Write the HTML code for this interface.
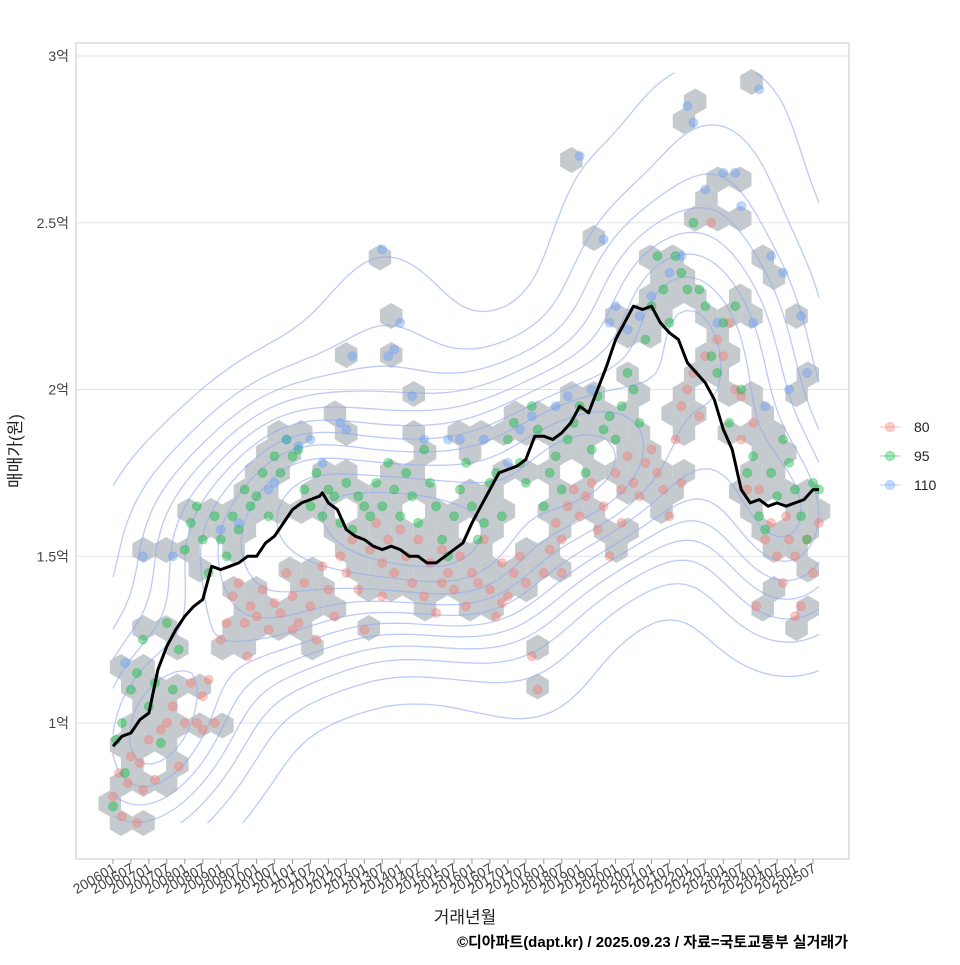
<!DOCTYPE html>
<html><head><meta charset="utf-8"><style>
body{margin:0;background:#fff;}
svg text{font-family:"Liberation Sans","Noto Sans CJK KR",sans-serif;}
</style></head><body>
<svg id="c" width="960" height="960" xmlns="http://www.w3.org/2000/svg">
<rect x="0" y="0" width="960" height="960" fill="#fff"/>
<g id="grid"></g>
<clipPath id="clip"><rect x="76" y="43" width="773" height="816"/></clipPath>
<g id="hexes" clip-path="url(#clip)"></g>
<g id="contours" clip-path="url(#clip)"></g>
<g id="pts"></g>
<g id="line"></g>
<rect x="76" y="43" width="773" height="816" fill="none" stroke="#c8c8c8" stroke-width="1"/>
<g id="axes"></g>
<text x="465" y="923" font-size="17" fill="#222" text-anchor="middle">거래년월</text>
<text transform="translate(21,451) rotate(-90)" font-size="17" fill="#222" text-anchor="middle">매매가(원)</text>
<text x="848" y="947" font-size="15" font-weight="bold" fill="#000" text-anchor="end">©디아파트(dapt.kr) / 2025.09.23 / 자료=국토교통부 실거래가</text>
<g id="legend"></g>
</svg>
<script>
const yTicks=[1,1.5,2,2.5,3];
const yTickLabels=["1억","1.5억","2억","2.5억","3억"];
const xTickMonths=[];const xTickLabels=[];
for(let y=2006;y<=2025;y++){for(const m of [1,7]){xTickMonths.push((y-2006)*12+m-1);xTickLabels.push(y+(m<10?"0":"")+m);}}
const sizes=["80","95","110"];
const colors=["#F8766D","#00BA38","#619CFF"];
const pts80="0:0.78,2:0.85,3:0.72,5:0.82,6:0.9,8:0.70,9:0.88,12:0.95,14:0.83,16:0.98,18:1.0,20:1.05,22:0.87,24:1.0,26:1.12,28:1.0,30:1.08,32:1.13,34:1.0,36:1.25,38:1.3,40:1.38,42:1.42,44:1.3,46:1.35,48:1.32,50:1.4,52:1.28,54:1.36,56:1.33,58:1.45,60:1.38,62:1.3,64:1.42,66:1.35,68:1.25,70:1.47,72:1.4,74:1.32,76:1.5,78:1.45,80:1.55,82:1.4,84:1.28,86:1.52,88:1.6,90:1.48,92:1.55,94:1.45,96:1.58,98:1.5,100:1.42,102:1.55,104:1.38,106:1.48,108:1.33,110:1.52,112:1.45,114:1.4,116:1.5,118:1.35,120:1.45,122:1.42,124:1.55,126:1.4,128:1.32,130:1.48,132:1.38,134:1.45,136:1.5,138:1.42,140:1.2,142:1.1,144:1.45,146:1.52,148:1.6,150:1.55,152:1.65,154:1.7,156:1.62,158:1.68,160:1.72,162:1.58,164:1.65,166:1.5,168:1.75,170:1.6,172:1.8,174:1.72,176:1.68,178:1.78,180:1.82,182:1.75,184:1.7,186:1.62,188:1.85,190:1.95,192:2.0,194:2.05,196:1.92,198:2.1,200:2.5,202:2.15,204:2.1,206:2.2,208:2.0,210:1.85,212:1.7,214:1.9,216:1.7,218:1.55,220:1.6,222:1.5,224:1.42,226:1.55,228:1.5,230:1.35,232:1.55,234:1.45,236:1.6,60:1.28,90:1.38,110:1.42,130:1.36,150:1.45,170:1.7,190:1.72,210:1.98,225:1.62,215:1.35,228:1.32,45:1.2,30:0.98,10:0.8";
const pts95="0:0.75,1:0.95,3:1.0,4:0.85,6:1.1,8:1.15,10:1.25,12:1.05,14:1.12,16:0.94,18:1.3,20:1.1,22:1.22,24:1.52,26:1.6,28:1.65,30:1.55,32:1.45,34:1.62,36:1.55,38:1.5,40:1.62,42:1.58,44:1.7,46:1.65,48:1.68,50:1.75,52:1.62,54:1.8,56:1.75,58:1.85,60:1.8,62:1.82,64:1.7,66:1.65,68:1.75,70:1.62,72:1.7,74:1.68,76:1.6,78:1.72,80:1.58,82:1.68,84:1.65,86:1.62,88:1.72,90:1.65,92:1.78,94:1.7,96:1.62,98:1.75,100:1.68,102:1.6,104:1.82,106:1.72,108:1.65,110:1.55,112:1.5,114:1.62,116:1.7,118:1.78,120:1.65,122:1.55,124:1.6,126:1.72,128:1.75,130:1.62,132:1.85,134:1.9,136:1.78,138:1.72,140:1.95,142:1.88,144:1.65,146:1.75,148:1.8,150:1.7,152:1.85,154:1.9,156:1.95,158:1.75,160:1.82,162:1.98,164:1.88,166:1.92,168:1.85,170:1.95,172:2.05,174:2.0,176:1.9,178:2.15,180:2.25,182:2.4,184:2.3,186:2.2,188:2.4,190:2.35,192:2.3,194:2.5,196:2.3,198:2.25,200:2.1,202:2.05,204:2.2,206:1.9,208:2.25,210:2.0,212:1.75,214:1.8,216:1.62,218:1.58,220:1.75,222:1.68,224:1.85,226:1.78,228:1.7,230:1.62,232:1.55,234:1.72,236:1.7";
const pts110="4:1.18,10:1.5,20:1.5,36:1.58,42:1.6,52:1.7,54:1.72,58:1.85,62:1.83,66:1.85,70:1.78,76:1.9,78:1.88,80:2.1,90:2.42,92:2.1,94:2.12,96:2.2,100:1.98,104:1.85,112:1.85,116:1.85,124:1.85,132:1.78,136:1.88,140:1.92,148:1.95,152:1.98,156:2.7,160:2.0,164:2.45,166:2.2,168:2.25,172:2.18,176:2.22,180:2.28,186:2.35,190:2.4,192:2.85,194:2.8,198:2.6,202:2.2,204:2.65,208:2.65,210:2.55,214:2.2,216:2.9,218:1.95,220:2.4,224:2.35,226:2.0,230:2.22,232:2.05";
const lineMonths=[0,3,6,9,12,15,18,21,24,27,30,33,36,39,42,45,48,51,54,57,60,63,66,69,70,72,75,78,81,84,87,90,93,96,99,102,105,108,111,114,117,120,123,126,129,132,135,138,141,144,147,150,153,156,159,162,165,168,171,174,177,180,183,186,189,192,195,198,201,204,207,210,213,216,219,222,225,228,231,234,236];
const lineValues=[0.93,0.96,0.97,1.01,1.03,1.16,1.23,1.28,1.32,1.35,1.37,1.47,1.46,1.47,1.48,1.50,1.50,1.54,1.56,1.60,1.64,1.66,1.67,1.68,1.69,1.66,1.64,1.58,1.56,1.55,1.53,1.52,1.53,1.52,1.50,1.50,1.48,1.48,1.50,1.52,1.54,1.60,1.65,1.70,1.75,1.76,1.77,1.79,1.86,1.86,1.85,1.87,1.90,1.95,1.93,2.00,2.07,2.15,2.20,2.25,2.24,2.25,2.20,2.17,2.15,2.08,2.05,2.02,1.97,1.88,1.82,1.70,1.66,1.67,1.65,1.66,1.65,1.66,1.67,1.70,1.70];

const NS="http://www.w3.org/2000/svg";
const X=m=>113+m*(700/234);
const Y=v=>723-(v-1)*333.5;
function mk(t,a,p){const e=document.createElementNS(NS,t);for(const k in a)e.setAttribute(k,a[k]);p.appendChild(e);return e;}
const parse=s=>s.split(",").map(p=>p.split(":").map(Number));
const series=[parse(pts80),parse(pts95),parse(pts110)];

const g=document.getElementById("grid"),ax=document.getElementById("axes");
yTicks.forEach((v,i)=>{
 const l=mk("line",{x1:76,x2:849,y1:Y(v),y2:Y(v),stroke:"#e3e3e3","stroke-width":1},g);
 
 
 const t=mk("text",{x:69,y:Y(v)+5,"font-size":14,fill:"#444","text-anchor":"end"},ax);t.textContent=yTickLabels[i];
 
 
});
xTickMonths.forEach((m,i)=>{
 const tk=mk("line",{x1:X(m),x2:X(m),y1:859,y2:864,stroke:"#999"},ax);
 
 
 const t=mk("text",{transform:`translate(${X(m)+4},${871}) rotate(-30)`,"font-size":14,fill:"#444","text-anchor":"end"},ax);t.textContent=xTickLabels[i];
 
 
});

const hg=document.getElementById("hexes");const R=13,HW=Math.sqrt(3)*R,HV=1.5*R;
const bins={};
series.flat().forEach(([m,v])=>{
 const px=X(m),py=Y(v);const row=Math.round((py-43)/HV);
 const col=Math.round((px-76)/HW);let best=null,bd=1e9;
 for(let dr=-1;dr<=1;dr++)for(let dc=-1;dc<=1;dc++){const r=row+dr,c=col+dc;const cx=76+c*HW+((((r%2)+2)%2)*HW/2),cy=43+r*HV;const d=(cx-px)**2+(cy-py)**2;if(d<bd){bd=d;best=[cx,cy];}}
 bins[best.join(",")]=best;
});
Object.values(bins).forEach(([cx,cy])=>{
 let pts=[];for(let k=0;k<6;k++){const a=Math.PI/180*(60*k-90);pts.push((cx+R*Math.cos(a)).toFixed(1)+","+(cy+R*Math.sin(a)).toFixed(1));}
 const h=mk("polygon",{points:pts.join(" "),fill:"#bfc4c9","fill-opacity":0.9},hg);
 
 
});

const all=series.flat();const cg=document.getElementById("contours");
const NX=90,NY=90,x0=0,x1=236,v0=0.7,v1=2.95,hx=17,hy=0.16;
const D=[];let mx=0;
for(let j=0;j<=NY;j++){D.push([]);for(let i=0;i<=NX;i++){const m=x0+(x1-x0)*i/NX,v=v0+(v1-v0)*j/NY;let s=0;for(const [pm,pv] of all){s+=Math.exp(-0.5*(((m-pm)/hx)**2+((v-pv)/hy)**2));}D[j].push(s);if(s>mx)mx=s;}}
const gx=i=>X(x0+(x1-x0)*i/NX),gy=j=>Y(v0+(v1-v0)*j/NY);
for(let L=1;L<=11;L++){
 const lv=mx*(0.06+0.085*(L-1));let d="";
 for(let j=0;j<NY;j++)for(let i=0;i<NX;i++){
  const a=D[j][i],b=D[j][i+1],c=D[j+1][i+1],e=D[j+1][i];
  const P=[];
  const it=(p,q,va,vb)=>{const t=(lv-va)/(vb-va);return[p[0]+(q[0]-p[0])*t,p[1]+(q[1]-p[1])*t];};
  const A=[gx(i),gy(j)],B=[gx(i+1),gy(j)],C=[gx(i+1),gy(j+1)],E=[gx(i),gy(j+1)];
  if((a>lv)!=(b>lv))P.push(it(A,B,a,b));
  if((b>lv)!=(c>lv))P.push(it(B,C,b,c));
  if((c>lv)!=(e>lv))P.push(it(C,E,c,e));
  if((e>lv)!=(a>lv))P.push(it(E,A,e,a));
  for(let k=0;k+1<P.length;k+=2)d+=`M${P[k][0].toFixed(1)},${P[k][1].toFixed(1)}L${P[k+1][0].toFixed(1)},${P[k+1][1].toFixed(1)}`;
 }
 const p=mk("path",{d:d,fill:"none",stroke:"#8fa8f0","stroke-opacity":0.6,"stroke-width":1.3},cg);
 
 
}

const pg=document.getElementById("pts");
series.forEach((s,k)=>s.forEach(([m,v])=>{
 const c=mk("circle",{cx:X(m),cy:Y(v),r:4.5,fill:colors[k],"fill-opacity":0.4,stroke:colors[k],"stroke-opacity":0.3},pg);
 
 
}));

const lp=mk("path",{d:lineMonths.map((m,i)=>(i?"L":"M")+X(m).toFixed(1)+","+Y(lineValues[i]).toFixed(1)).join(""),fill:"none",stroke:"#000","stroke-width":3,"stroke-linejoin":"round"},document.getElementById("line"));



const lg=document.getElementById("legend");
sizes.forEach((s,k)=>{
 const y=427+k*29;
 const ln=mk("line",{x1:880,x2:900,y1:y,y2:y,stroke:colors[k],"stroke-opacity":0.4,"stroke-width":1.2},lg);
 
 
 const c=mk("circle",{cx:890,cy:y,r:4.5,fill:colors[k],"fill-opacity":0.35,stroke:colors[k],"stroke-opacity":0.4},lg);
 
 
 const t=mk("text",{x:914,y:y+5,"font-size":14,fill:"#222"},lg);t.textContent=s;
 
 
});
</script>
</body></html>
